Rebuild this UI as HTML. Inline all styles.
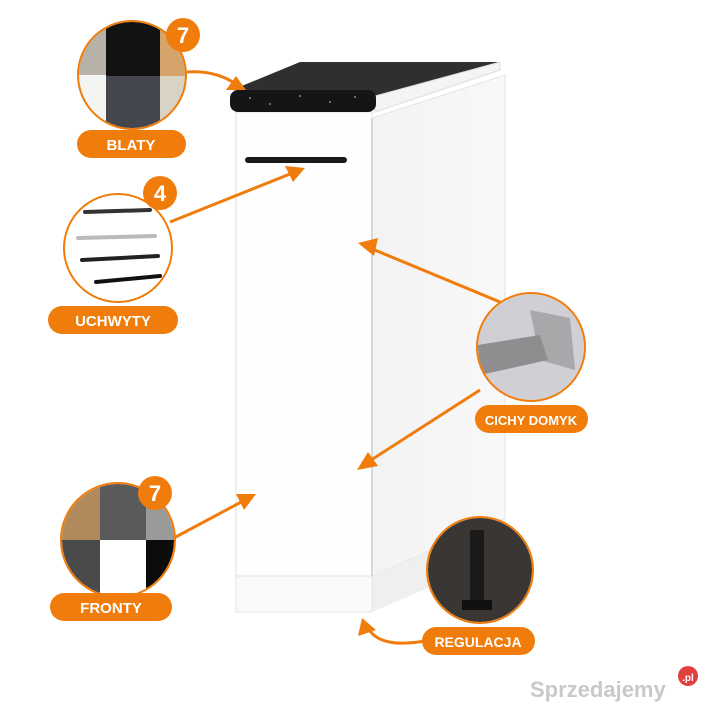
<!DOCTYPE html>
<html><head><style>
html,body{margin:0;padding:0;background:#fff;width:720px;height:720px;overflow:hidden}
svg{display:block}
text{font-family:"Liberation Sans",sans-serif;font-weight:bold}
</style></head><body>
<svg width="720" height="720" viewBox="0 0 720 720">
<defs>
<clipPath id="c1"><circle cx="132" cy="75" r="53"/></clipPath>
<clipPath id="c2"><circle cx="118" cy="248" r="53"/></clipPath>
<clipPath id="c3"><circle cx="531" cy="347" r="53"/></clipPath>
<clipPath id="c4"><circle cx="118" cy="540" r="56"/></clipPath>
<clipPath id="c5"><circle cx="480" cy="570" r="52"/></clipPath>
<linearGradient id="side" x1="0" x2="1"><stop offset="0" stop-color="#f3f3f3"/><stop offset="1" stop-color="#f8f8f8"/></linearGradient>
</defs>
<!-- cabinet right side -->
<polygon points="372,118 505,75 505,518 372,576" fill="url(#side)" stroke="#e4e4e4"/>
<polygon points="372,576 505,518 505,555 372,612" fill="#efefef"/>
<!-- plinth front -->
<rect x="236" y="560" width="136" height="52" fill="#fafafa" stroke="#e6e6e6"/>
<!-- door -->
<rect x="236" y="112" width="136" height="464" fill="#fefefe" stroke="#e2e2e2"/>
<line x1="372" y1="118" x2="372" y2="576" stroke="#d8d8d8" stroke-width="2"/>
<!-- countertop -->
<polygon points="232,90 300,62 500,62 375,96" fill="#2f2f2f"/>
<polygon points="375,96 500,62 500,70 375,112" fill="#f4f4f4" stroke="#ddd"/>
<rect x="230" y="90" width="146" height="22" rx="8" fill="#151515"/>
<g fill="#888"><circle cx="250" cy="98" r="1"/><circle cx="270" cy="104" r="1"/><circle cx="300" cy="96" r="1"/><circle cx="330" cy="102" r="1"/><circle cx="355" cy="97" r="1"/></g>
<!-- handle -->
<rect x="245" y="157" width="102" height="6" rx="3" fill="#1a1a1a"/>
<!-- arrows -->
<g stroke="#f07c0c" stroke-width="3" fill="none">
<path d="M187,72 Q215,70 236,84"/>
<path d="M170,222 L295,172"/>
<path d="M500,302 L370,248"/>
<path d="M480,390 L368,462"/>
<path d="M170,540 L245,500"/>
<path d="M430,640 Q380,650 368,628"/>
</g>
<g fill="#f07c0c">
<polygon points="246,90 226,90 236,76"/>
<polygon points="305,168 285,166 293,182"/>
<polygon points="358,243 378,238 374,256"/>
<polygon points="357,470 368,452 378,466"/>
<polygon points="256,494 236,494 244,510"/>
<polygon points="362,618 358,636 376,630"/>
</g>
<!-- circle 1 blaty -->
<g clip-path="url(#c1)">
<rect x="78" y="20" width="110" height="110" fill="#b6b2a8"/>
<rect x="78" y="75" width="30" height="55" fill="#f4f4f2"/>
<rect x="106" y="20" width="54" height="56" fill="#121212"/>
<rect x="106" y="76" width="54" height="56" fill="#44484e"/>
<rect x="160" y="20" width="30" height="56" fill="#d4a46c"/>
<rect x="160" y="76" width="30" height="56" fill="#dad2c2"/>
</g>
<circle cx="132" cy="75" r="54" fill="none" stroke="#f07c0c" stroke-width="2"/>
<!-- circle 2 handles -->
<g clip-path="url(#c2)"><rect x="60" y="190" width="120" height="120" fill="#fff"/>
<g stroke-linecap="round" stroke-width="4"><line x1="85" y1="212" x2="150" y2="210" stroke="#333"/><line x1="78" y1="238" x2="155" y2="236" stroke="#bbb"/><line x1="82" y1="260" x2="158" y2="256" stroke="#222"/><line x1="96" y1="282" x2="160" y2="276" stroke="#111"/></g></g>
<circle cx="118" cy="248" r="54" fill="none" stroke="#f07c0c" stroke-width="2"/>
<!-- circle 3 hinge -->
<g clip-path="url(#c3)"><rect x="470" y="290" width="120" height="120" fill="#d0d0d4"/>
<polygon points="530,310 570,318 575,370 540,360" fill="#a8a8aa"/><polygon points="478,345 540,335 548,360 480,375" fill="#8e8e90"/></g>
<circle cx="531" cy="347" r="54" fill="none" stroke="#f07c0c" stroke-width="2"/>
<!-- circle 4 fronty -->
<g clip-path="url(#c4)">
<rect x="60" y="480" width="40" height="60" fill="#b08a5c"/>
<rect x="100" y="480" width="46" height="60" fill="#5a5a5a"/>
<rect x="146" y="480" width="34" height="60" fill="#9a9a9a"/>
<rect x="60" y="540" width="40" height="60" fill="#4a4a4a"/>
<rect x="100" y="540" width="46" height="60" fill="#fff"/>
<rect x="146" y="540" width="34" height="60" fill="#0c0c0c"/>
</g>
<circle cx="118" cy="540" r="57" fill="none" stroke="#f07c0c" stroke-width="2"/>
<!-- circle 5 leg -->
<g clip-path="url(#c5)"><rect x="420" y="515" width="120" height="120" fill="#3a3634"/>
<rect x="470" y="530" width="14" height="70" fill="#1a1a1a"/><rect x="462" y="600" width="30" height="10" fill="#111"/></g>
<circle cx="480" cy="570" r="53" fill="none" stroke="#f07c0c" stroke-width="2"/>
<!-- badges -->
<g fill="#f07c0c"><circle cx="183" cy="35" r="17"/><circle cx="160" cy="193" r="17"/><circle cx="155" cy="493" r="17"/></g>
<g fill="#fff" font-size="22" text-anchor="middle"><text x="183" y="43">7</text><text x="160" y="201">4</text><text x="155" y="501">7</text></g>
<!-- pills -->
<g fill="#f07c0c">
<rect x="77" y="130" width="109" height="28" rx="14"/>
<rect x="48" y="306" width="130" height="28" rx="14"/>
<rect x="475" y="405" width="113" height="28" rx="14"/>
<rect x="50" y="593" width="122" height="28" rx="14"/>
<rect x="422" y="627" width="113" height="28" rx="14"/>
</g>
<g fill="#fff" font-size="15" text-anchor="middle">
<text x="131" y="150">BLATY</text>
<text x="113" y="326">UCHWYTY</text>
<text x="531" y="425" font-size="13">CICHY DOMYK</text>
<text x="111" y="613">FRONTY</text>
<text x="478" y="647" font-size="14">REGULACJA</text>
</g>
<text x="530" y="697" font-size="22" fill="#c9c9c9" font-weight="bold">Sprzedajemy</text>
<circle cx="688" cy="676" r="10" fill="#e04040"/><text x="688" y="681" font-size="10" fill="#fff" text-anchor="middle">.pl</text>
</svg>
</body></html>
